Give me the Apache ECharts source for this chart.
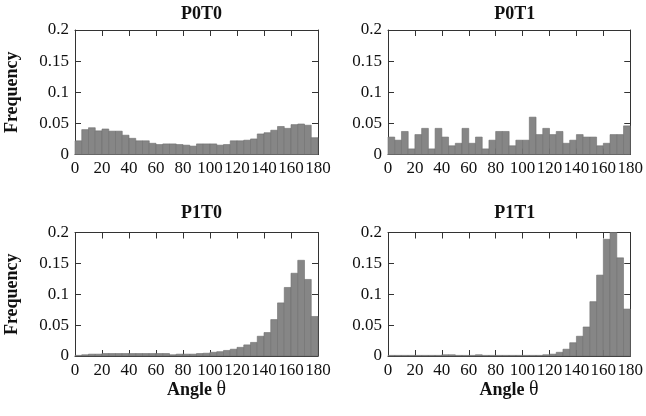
<!DOCTYPE html>
<html><head><meta charset="utf-8">
<script src="https://cdn.jsdelivr.net/npm/echarts@6/dist/echarts.min.js"></script>
<style>html,body{margin:0;padding:0;background:#fff}#c{width:646px;height:416px}</style>
</head><body><div id="c"></div>
<script>
// Histogram bins (degrees)
const binStarts = [0,5,10,15,20,25,30,35,40,45,50,55,60,65,70,75,80,85,90,95,100,105,110,115,120,125,130,135,140,145,150,155,160,165,170,175];
const binWidth = 5;
const panelTitles = ['P0T0','P0T1','P1T0','P1T1'];
const xTicks = [0,20,40,60,80,100,120,140,160,180];
const yTicks = [0,0.05,0.1,0.15,0.2];

const p0t0 = [0.022,0.040,0.043,0.038,0.041,0.0375,0.0375,0.031,0.026,0.022,0.022,0.018,0.016,0.017,0.017,0.016,0.015,0.0135,0.017,0.017,0.017,0.015,0.016,0.022,0.022,0.023,0.025,0.033,0.035,0.039,0.045,0.042,0.048,0.049,0.047,0.027];
const p0t1 = [0.028,0.023,0.037,0.009,0.032,0.042,0.009,0.042,0.028,0.014,0.018,0.042,0.018,0.028,0.009,0.023,0.037,0.037,0.014,0.023,0.023,0.060,0.032,0.042,0.032,0.037,0.018,0.023,0.032,0.028,0.028,0.014,0.018,0.032,0.032,0.046];
const p1t0 = [0.001,0.002,0.003,0.003,0.004,0.004,0.004,0.004,0.004,0.004,0.004,0.004,0.004,0.004,0.002,0.003,0.003,0.003,0.004,0.0045,0.006,0.007,0.009,0.011,0.014,0.018,0.022,0.032,0.038,0.059,0.086,0.111,0.134,0.155,0.124,0.064];
const p1t1 = [0.001,0.001,0.001,0.001,0.001,0.001,0.001,0.001,0.002,0.002,0.001,0.001,0.001,0.002,0.001,0.001,0.001,0.001,0.001,0.001,0.001,0.001,0.001,0.002,0.003,0.006,0.011,0.0215,0.032,0.047,0.088,0.131,0.189,0.2,0.159,0.076];
const seriesData = [p0t0,p0t1,p1t0,p1t1];

const grids = [
  {left:75, top:30, width:243, height:124.5},
  {left:388, top:30, width:243.5, height:124.5},
  {left:75, top:232.5, width:243, height:123.5},
  {left:388, top:232.5, width:243.5, height:123.5}
];

const serif = "Liberation Serif";
const lineCol = '#333';
const tickRich = {s:{fontFamily:serif, fontSize:17, color:'#111'}};

const xAxes = [], yAxes = [], series = [], titles = [];
grids.forEach((g, i) => {
  const base = {gridIndex:i, type:'value', min:xTicks[0], max:xTicks[xTicks.length-1], interval:xTicks[1]-xTicks[0],
    axisLine:{show:true, onZero:false, lineStyle:{color:lineCol, width:1}},
    axisTick:{show:true, inside:true, length:6, lineStyle:{color:lineCol}},
    splitLine:{show:false}};
  xAxes.push(Object.assign({}, base, {position:'bottom',
    axisLabel:{show:true, fontFamily:serif, fontSize:17, color:'#111', margin:6, formatter:'{s|{value}}', rich:tickRich},
    name: i >= 2 ? '{b|Angle }{t|θ}' : '', nameLocation:'middle', nameGap:22,
    nameTextStyle:{rich:{b:{fontFamily:serif, fontWeight:'bold', fontSize:18, color:'#111'}, t:{fontFamily:serif, fontSize:20, color:'#111'}}}
  }));
  xAxes.push(Object.assign({}, base, {position:'top', axisLabel:{show:false}}));
  const ybase = {gridIndex:i, type:'value', min:yTicks[0], max:yTicks[yTicks.length-1], interval:yTicks[1]-yTicks[0],
    axisLine:{show:true, onZero:false, lineStyle:{color:lineCol, width:1}},
    axisTick:{show:true, inside:true, length:6, lineStyle:{color:lineCol}},
    splitLine:{show:false}};
  yAxes.push(Object.assign({}, ybase, {position:'left',
    axisLabel:{show:true, fontFamily:serif, fontSize:17, color:'#111', margin:6, formatter:'{s|{value}}', rich:tickRich},
    name: (i % 2 === 0) ? 'Frequency' : '', nameLocation:'middle', nameRotate:90, nameGap:54,
    nameTextStyle:{fontFamily:serif, fontWeight:'bold', fontSize:18, color:'#111'}
  }));
  yAxes.push(Object.assign({}, ybase, {position:'right', axisLabel:{show:false}}));
  series.push({
    type:'custom', xAxisIndex:2*i, yAxisIndex:2*i,
    data: binStarts.map((s, k) => [s, s + binWidth, seriesData[i][k]]),
    encode:{x:[0,1], y:2},
    renderItem: function(params, api){
      const a = api.coord([api.value(0), 0]);
      const b = api.coord([api.value(1), api.value(2)]);
      return {type:'rect', shape:{x:a[0], y:b[1], width:b[0]-a[0], height:a[1]-b[1]},
        style:{fill:'#868686', stroke:'#6f6f6f', lineWidth:0.6}};
    }
  });
  titles.push({text:panelTitles[i], left:g.left + g.width/2, top: i < 2 ? 0 : 199, textAlign:'center',
    textStyle:{fontFamily:serif, fontWeight:'bold', fontSize:18, color:'#111'}});
});

const chart = echarts.init(document.getElementById('c'), null, {renderer:'canvas'});
chart.setOption({
  animation:false,
  backgroundColor:'#fff',
  textStyle:{fontFamily:serif},
  title: titles,
  grid: grids,
  xAxis: xAxes,
  yAxis: yAxes,
  series: series
});
</script>
</body></html>
